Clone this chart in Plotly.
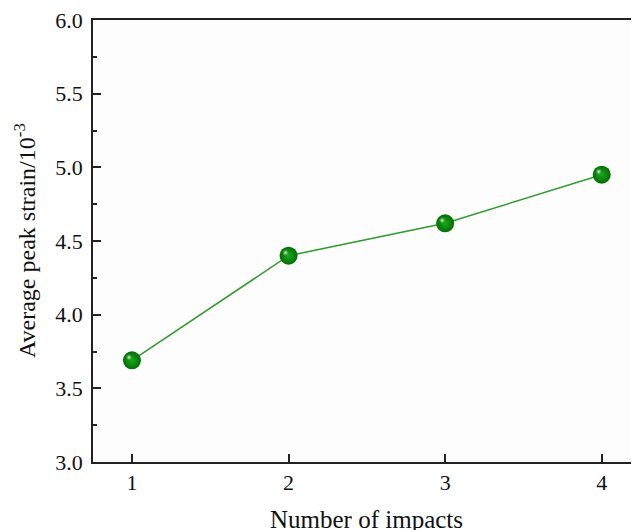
import plotly.graph_objects as go

impacts = [1, 2, 3, 4]
peak_strain = [3.69, 4.40, 4.62, 4.95]
x_ticks = [1, 2, 3, 4]
y_ticks = [3.0, 3.5, 4.0, 4.5, 5.0, 5.5, 6.0]

# page body has an 8px margin, so figure is offset by 8px
W, H = 631, 522
ml, mr, mt, mb = 85, 0, 12, 68
xr = [0.751, 4.238]
yr = [3.0, 6.0]
pw, ph = W - ml - mr, H - mt - mb
dx = (xr[1] - xr[0]) / pw
dy = (yr[1] - yr[0]) / ph
# highlight offset (pixels): left 3, up 3
x2r = [xr[0] + 3 * dx, xr[1] + 3 * dx]
y2r = [yr[0] - 3 * dy, yr[1] - 3 * dy]

font = "Liberation Serif"

fig = go.Figure()
fig.add_trace(go.Scatter(
    x=impacts, y=peak_strain, mode="lines+markers",
    line=dict(color="#2a9d2a", width=1.5),
    marker=dict(size=18, color="#006f00", symbol="circle",
                gradient=dict(type="radial", color="#1aa81a"),
                line=dict(width=0)),
    showlegend=False,
))
fig.add_trace(go.Scatter(
    x=impacts, y=peak_strain, mode="markers",
    xaxis="x2", yaxis="y2",
    marker=dict(size=7, color="rgba(60,180,60,0)", symbol="circle",
                gradient=dict(type="radial", color="rgba(255,255,255,0.95)"),
                line=dict(width=0)),
    showlegend=False, hoverinfo="skip",
))

fig.update_layout(
    width=W, height=H,
    margin=dict(l=ml, r=mr, t=mt, b=mb),
    paper_bgcolor="white", plot_bgcolor="#fdfdfd",
    font=dict(family=font, size=22, color="#111"),
    xaxis=dict(range=xr, tickvals=x_ticks, ticktext=[str(v) for v in x_ticks],
               ticks="inside", ticklen=8, tickwidth=1.5, tickcolor="#222",
               showline=True, linecolor="#222", linewidth=1.8, mirror=True,
               showgrid=False, zeroline=False, ticklabelstandoff=0,
               ticklabeloverflow="allow",
               tickfont=dict(family=font, size=22, color="#111")),
    yaxis=dict(range=yr, tickvals=y_ticks, ticktext=[f"{v:.1f}" for v in y_ticks],
               ticks="inside", ticklen=8, tickwidth=1.5, tickcolor="#222",
               showline=True, linecolor="#222", linewidth=1.8,
               showgrid=False, zeroline=False, ticklabelstandoff=4,
               ticklabeloverflow="allow",
               minor=dict(dtick=0.25, ticks="inside", ticklen=4, tickwidth=1.5, tickcolor="#222"),
               tickfont=dict(family=font, size=22, color="#111")),
    xaxis2=dict(range=x2r, overlaying="x", visible=False),
    yaxis2=dict(range=y2r, overlaying="y", visible=False),
    annotations=[
        dict(text="Number of impacts", xref="paper", yref="paper", x=0.5, y=0,
             xanchor="center", yanchor="top", yshift=-42, showarrow=False,
             font=dict(family=font, size=25, color="#111")),
        dict(text="Average peak strain/10<sup>-3</sup>", xref="paper", yref="paper",
             x=0, y=0.5, xanchor="center", yanchor="middle", xshift=-68, yshift=0,
             textangle=-90, showarrow=False,
             font=dict(family=font, size=24, color="#111")),
    ],
)

fig.write_html("out.html")
